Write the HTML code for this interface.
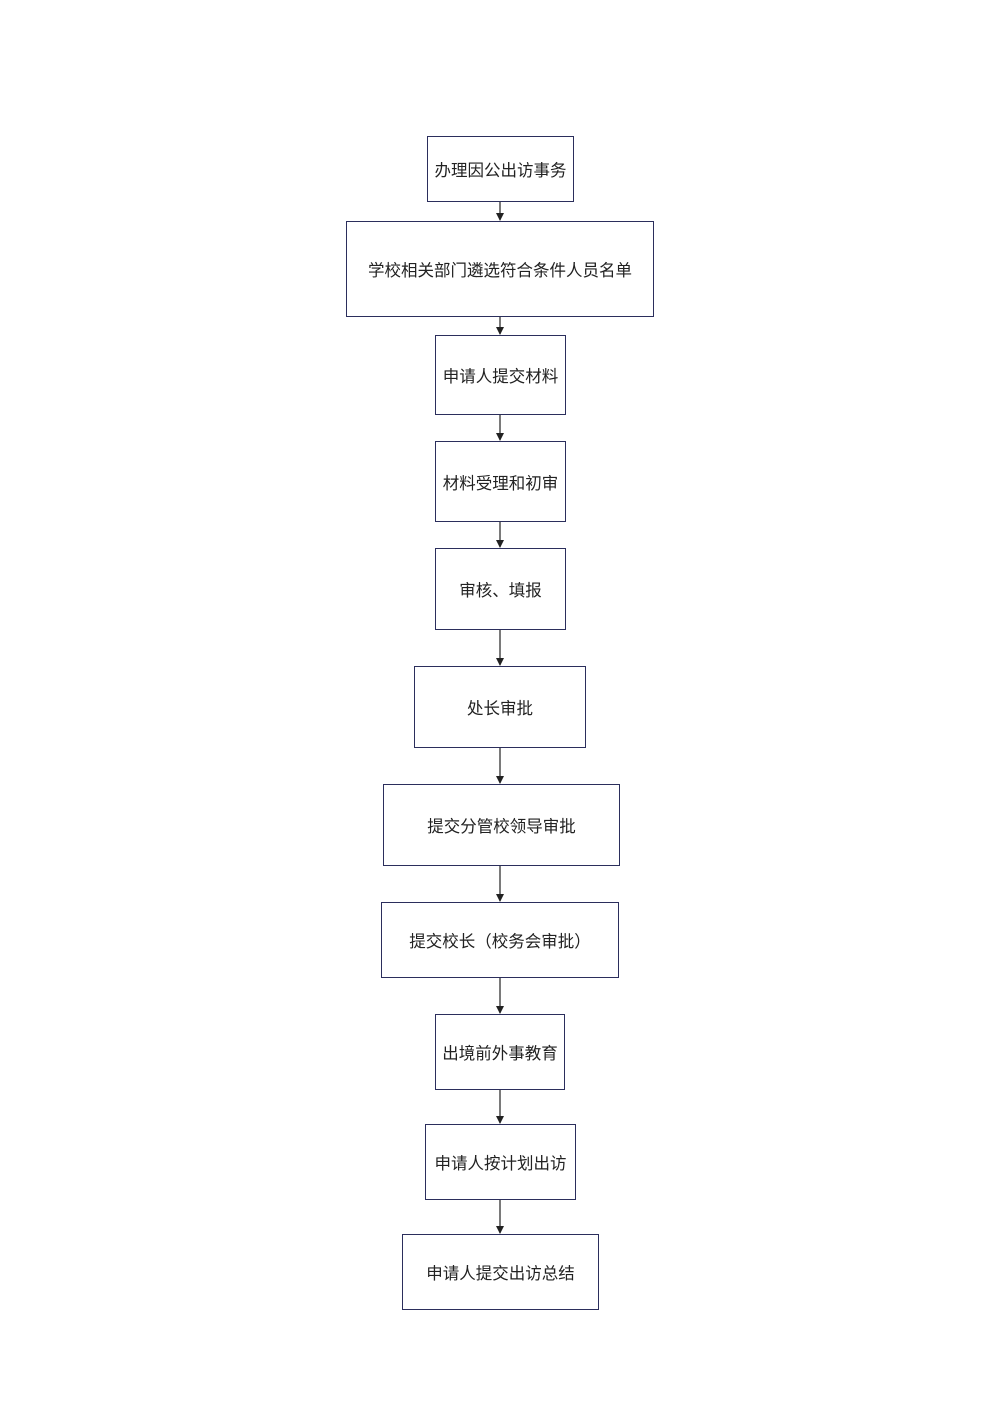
<!DOCTYPE html>
<html><head><meta charset="utf-8"><style>
body{margin:0;width:999px;height:1414px;background:#fff;position:relative;overflow:hidden}
.b{position:absolute;box-sizing:border-box;border:1.5px solid #2b2e5c;display:flex;align-items:center;justify-content:center;font-family:"Liberation Sans","Noto Sans CJK SC",sans-serif;font-size:16.5px;color:#222;background:#fff}
svg{position:absolute;left:0;top:0}
</style></head><body>
<svg width="999" height="1414">
<defs><marker id="a" markerWidth="8" markerHeight="8" refX="7" refY="4" orient="auto" markerUnits="userSpaceOnUse"><path d="M0,0 L8,4 L0,8 z" fill="#222"/></marker></defs>
<g stroke="#222" stroke-width="1.2" marker-end="url(#a)">
<line x1="500" y1="201" x2="500" y2="220"/>
<line x1="500" y1="316" x2="500" y2="334"/>
<line x1="500" y1="414" x2="500" y2="440"/>
<line x1="500" y1="521" x2="500" y2="547"/>
<line x1="500" y1="629" x2="500" y2="665"/>
<line x1="500" y1="747" x2="500" y2="783"/>
<line x1="500" y1="865" x2="500" y2="901"/>
<line x1="500" y1="977" x2="500" y2="1013"/>
<line x1="500" y1="1089" x2="500" y2="1123"/>
<line x1="500" y1="1199" x2="500" y2="1233"/>
</g></svg>
<div class="b" style="left:427px;top:136px;width:147px;height:66px">办理因公出访事务</div>
<div class="b" style="left:346px;top:221px;width:308px;height:96px">学校相关部门遴选符合条件人员名单</div>
<div class="b" style="left:435px;top:335px;width:131px;height:80px">申请人提交材料</div>
<div class="b" style="left:435px;top:441px;width:131px;height:81px">材料受理和初审</div>
<div class="b" style="left:435px;top:548px;width:131px;height:82px">审核、填报</div>
<div class="b" style="left:414px;top:666px;width:172px;height:82px">处长审批</div>
<div class="b" style="left:383px;top:784px;width:237px;height:82px">提交分管校领导审批</div>
<div class="b" style="left:381px;top:902px;width:238px;height:76px">提交校长（校务会审批）</div>
<div class="b" style="left:435px;top:1014px;width:130px;height:76px">出境前外事教育</div>
<div class="b" style="left:425px;top:1124px;width:151px;height:76px">申请人按计划出访</div>
<div class="b" style="left:402px;top:1234px;width:197px;height:76px">申请人提交出访总结</div>
</body></html>
